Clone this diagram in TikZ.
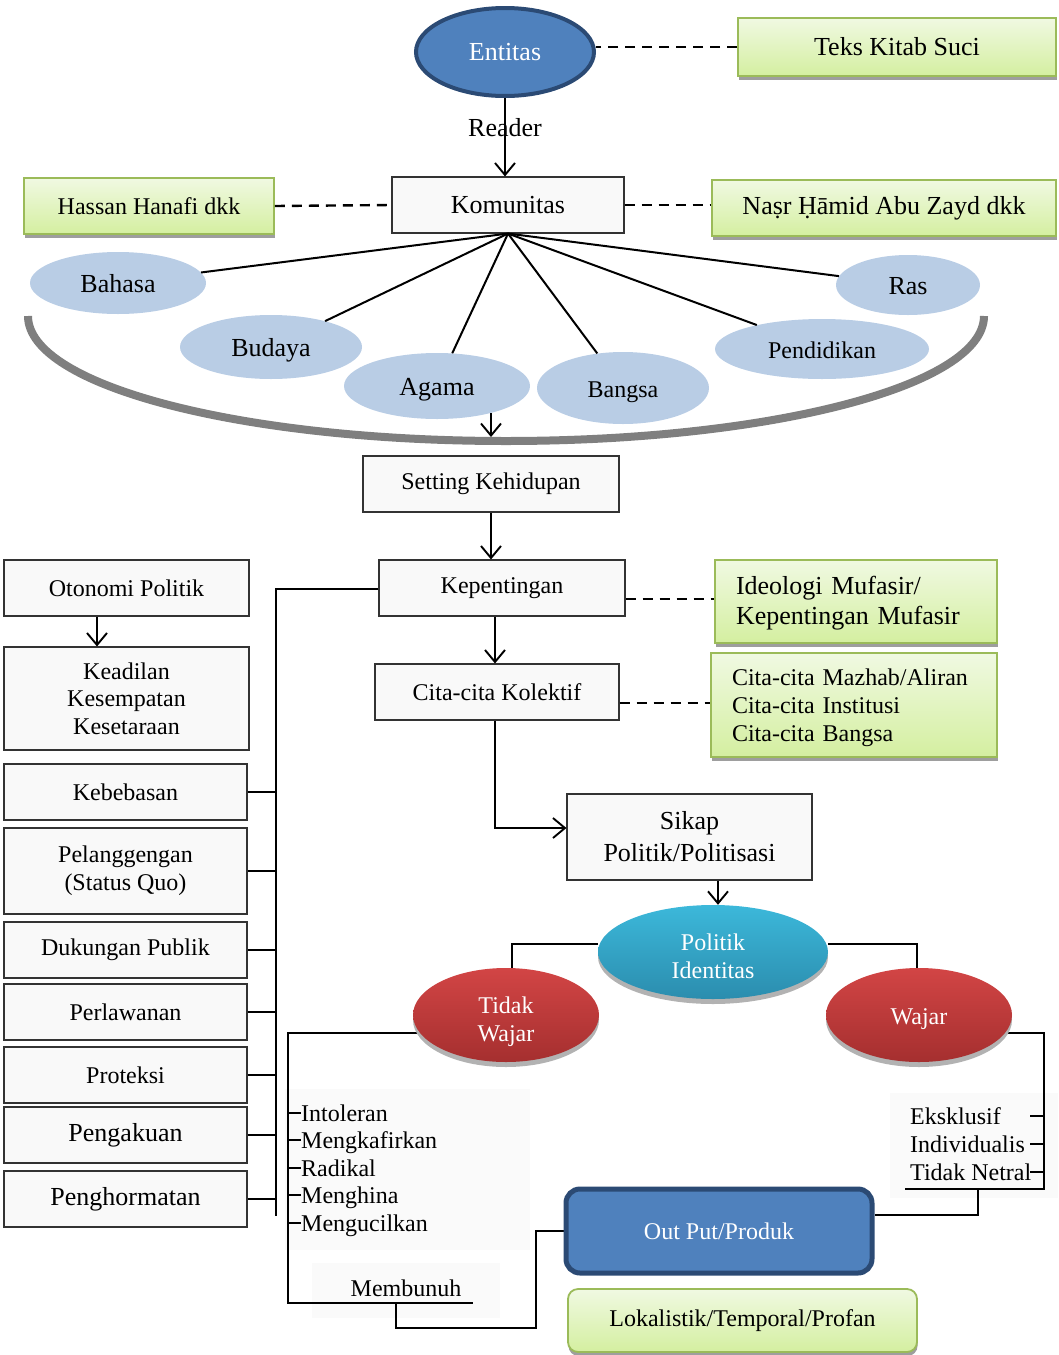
\documentclass[tikz,border=0pt]{standalone}
\usepackage{fontspec}
\setmainfont{Liberation Serif}
\usetikzlibrary{arrows.meta,shapes.geometric,shadows,backgrounds}
\definecolor{gbord}{HTML}{9BBB59}
\definecolor{gtop}{HTML}{F0F9E2}
\definecolor{gbot}{HTML}{D4EFA0}
\definecolor{lblue}{HTML}{B9CDE5}
\definecolor{dblue}{HTML}{4F81BD}
\definecolor{nblue}{HTML}{2B4A74}
\definecolor{rtop}{HTML}{D24545}
\definecolor{rbot}{HTML}{A52F2F}
\definecolor{ctop}{HTML}{3CB8DA}
\definecolor{cbot}{HTML}{2B8DAE}
\definecolor{boxfill}{HTML}{F9F9F9}
\definecolor{faint}{HTML}{FAFAFA}
\definecolor{bowlc}{HTML}{7F7F7F}
\newcommand\fsA{\fontsize{24}{28}\selectfont}
\newcommand\fsB{\fontsize{26}{30}\selectfont}
\begin{document}
\begin{tikzpicture}[x=1pt,y=-1pt,
 plainbox/.style={draw=black!80, fill=boxfill, line width=1.1pt, inner sep=0pt, align=center, font=\fsA},
 greenbox/.style={draw=gbord, line width=1.8pt, top color=gtop, bottom color=gbot,
   drop shadow={shadow xshift=0.5pt, shadow yshift=-4pt, fill=black!38, opacity=1}, inner sep=0pt},
 lightell/.style={ellipse, fill=lblue, inner sep=0pt, font=\fsB, text height=21pt, text depth=3pt},
 redell/.style={ellipse, top color=rtop, bottom color=rbot, inner sep=0pt, text=white, font=\fsA, align=center,
   minimum width=186pt, minimum height=94pt,
   drop shadow={shadow xshift=0pt, shadow yshift=-5pt, fill=black!30, opacity=1}},
 conn/.style={line width=2.1pt},
 arr/.style={line width=1.9pt, -{Straight Barb[length=12pt,width=20pt,line width=1.9pt]}},
 dsh/.style={line width=2.4pt, dash pattern=on 10pt off 7pt},
 listitem/.style={anchor=base west, inner sep=0pt, font=\fsA},
]
\useasboundingbox (0,0) rectangle (1058,1355);

% ---------- top ----------
\node[ellipse, fill=dblue, draw=nblue, line width=4pt, minimum width=178pt, minimum height=88pt,
  inner sep=0pt, text=white, font=\fsB] (ent) at (505,52) {Entitas};
\node[greenbox, minimum width=318pt, minimum height=58pt, font=\fsB] (teks) at (897,47) {Teks Kitab Suci};
\node[plainbox, minimum width=232pt, minimum height=56pt, font=\fsB] (kom) at (508,205) {Komunitas};
\node[greenbox, minimum width=250pt, minimum height=56pt, font=\fsA] (has) at (149,206) {Hassan Hanafi dkk};
\node[greenbox, minimum width=344pt, minimum height=56pt, font=\fsB] (nasr) at (884,208) {Naṣr Ḥāmid Abu Zayd dkk};

\draw[dsh] (teks.west) -- (teks.west -| ent.east);
\draw[dsh] (has.east) -- (kom.west);
\draw[dsh] (kom.east) -- (kom.east -| nasr.west);
\draw[arr] (ent.south) -- (ent.south |- kom.north) node[pos=0.38, font=\fsB, inner sep=0pt] (rdr) {Reader};

% ---------- identity ellipses ----------
\node[lightell, minimum width=176pt, minimum height=62pt] (bah) at (118,283) {Bahasa};
\node[lightell, minimum width=182pt, minimum height=64pt] (bud) at (271,347) {Budaya};
\node[lightell, minimum width=186pt, minimum height=66pt] (aga) at (437,386) {Agama};
\node[lightell, minimum width=172pt, minimum height=72pt, font=\fsA] (ban) at (623,388) {Bangsa};
\node[lightell, minimum width=214pt, minimum height=60pt, font=\fsA] (pdk) at (822,349) {Pendidikan};
\node[lightell, minimum width=144pt, minimum height=60pt] (ras) at (908,285) {Ras};
\foreach \n in {bah,bud,aga,ban,pdk,ras} \draw[line width=2pt] (kom.south) -- (\n);

\draw[bowlc, line width=8pt] (28,316) .. controls (28,386) and (242,441) .. (506,441)
  .. controls (770,441) and (984,386) .. (984,316);
\coordinate (agdrop) at (491,413);
\coordinate (bowlbot) at (491,437);
\draw[arr] (agdrop) -- (bowlbot);

% ---------- centre column ----------
\node[plainbox, minimum width=256pt, minimum height=56pt] (set) at (491,484) {Setting Kehidupan};
\node[plainbox, minimum width=246pt, minimum height=56pt] (kep) at (502,588) {Kepentingan};
\node[greenbox, minimum width=282pt, minimum height=83pt, text width=240pt, align=left,
  font=\fontsize{26}{30}\selectfont] (ideo) at (856,601.5) {\rule{0pt}{22pt}Ideologi Mufasir/\\Kepentingan Mufasir};
\node[plainbox, minimum width=244pt, minimum height=56pt] (cit) at (497,692) {Cita-cita Kolektif};
\node[greenbox, minimum width=286pt, minimum height=104pt, text width=244pt, align=left,
  font=\fontsize{24}{28}\selectfont] (cgr) at (854,705) {\rule{0pt}{22pt}Cita-cita Mazhab/Aliran\\Cita-cita Institusi\\Cita-cita Bangsa};
\node[plainbox, minimum width=245pt, minimum height=86pt, font=\fontsize{26}{32}\selectfont] (sik) at (689.5,837) {Sikap\\Politik/Politisasi};

\draw[arr] (set.south) -- (set.south |- kep.north);
\draw[dsh] ([yshift=-11pt]kep.east) -- ([yshift=-11pt]kep.east -| ideo.west);
\draw[arr] ([xshift=-7pt]kep.south) -- ([xshift=-7pt]kep.south |- cit.north);
\draw[dsh] ([yshift=-11pt]cit.east) -- ([yshift=-11pt]cit.east -| cgr.west);
\draw[arr] ([xshift=-2pt]cit.south) |- ([yshift=9pt]sik.west);

% ---------- politik identitas ----------
\node[ellipse, top color=ctop, bottom color=cbot, inner sep=0pt, text=white, font=\fsA, align=center,
  minimum width=230pt, minimum height=94pt,
  drop shadow={shadow xshift=0pt, shadow yshift=-5pt, fill=black!30, opacity=1}] (pol) at (713,952) {\rule{0pt}{24.5pt}Politik\\Identitas};
\node[redell] (tw) at (506,1015) {\rule{0pt}{30.5pt}Tidak\\Wajar};
\node[redell] (wj) at (919,1015) {\rule{0pt}{24pt}Wajar};
\draw[arr] ([xshift=28.5pt]sik.south) -- ([xshift=28.5pt]sik.south |- pol.north);

% ---------- left column ----------
\node[plainbox, minimum width=245pt, minimum height=56pt] (oto) at (126.5,588) {Otonomi Politik};
\node[plainbox, minimum width=245pt, minimum height=103pt, font=\fontsize{24}{27.5}\selectfont] (kea) at (126.5,698.5) {Keadilan\\Kesempatan\\Kesetaraan};
\node[plainbox, minimum width=243pt, minimum height=56pt] (keb) at (125.5,792) {Kebebasan};
\node[plainbox, minimum width=243pt, minimum height=86pt] (pel) at (125.5,871) {Pelanggengan\\(Status Quo)};
\node[plainbox, minimum width=243pt, minimum height=56pt] (duk) at (125.5,950) {Dukungan Publik};
\node[plainbox, minimum width=243pt, minimum height=56pt] (per) at (125.5,1012) {Perlawanan};
\node[plainbox, minimum width=243pt, minimum height=56pt] (pro) at (125.5,1075) {Proteksi};
\node[plainbox, minimum width=243pt, minimum height=56pt, font=\fsB] (pen) at (125.5,1135) {Pengakuan};
\node[plainbox, minimum width=243pt, minimum height=56pt, font=\fsB] (phr) at (125.5,1199) {Penghormatan};
\draw[arr] ([xshift=-29.5pt]oto.south) -- ([xshift=-29.5pt]oto.south |- kea.north);
\coordinate (kv) at (276,0);
\coordinate (kvb) at (276,1216);
\draw[conn] ([yshift=-1pt]kep.west) -| (kvb);
\foreach \n in {keb,pel,duk,per,pro,pen,phr} \draw[line width=2.6pt] (\n.east) -- (\n.east -| kv);

% ---------- output ----------
\node[draw=nblue, fill=dblue, line width=5pt, rounded corners=14pt, minimum width=306pt, minimum height=84pt,
  inner sep=0pt, text=white, font=\fsA] (out) at (719,1231) {Out Put/Produk};
\node[greenbox, rounded corners=10pt, minimum width=349pt, minimum height=63pt, font=\fsA] (lok) at (742.5,1320.5) {Lokalistik/Temporal/Profan};

% lists
\node[listitem] (i1) at (301,1121) {Intoleran};
\node[listitem] (i2) at (301,1148) {Mengkafirkan};
\node[listitem] (i3) at (301,1176) {Radikal};
\node[listitem] (i4) at (301,1203) {Menghina};
\node[listitem] (i5) at (301,1231) {Mengucilkan};
\node[font=\fsA, inner sep=0pt, anchor=base] (mbn) at (406,1296) {Membunuh};
\node[listitem] (e1) at (910,1124) {Eksklusif};
\node[listitem] (e2) at (910,1152) {Individualis};
\node[listitem] (e3) at (910,1180) {Tidak Netral};

\coordinate (L1) at (288,1033);
\coordinate (L2) at (288,1303);
\coordinate (M1) at (473,1303);
\coordinate (M2) at (396,1303);
\coordinate (M3) at (536,1328);
\coordinate (R1) at (1044,1033);
\coordinate (R2) at (1044,1189);
\coordinate (R3) at (905,1189);
\coordinate (R4) at (978,1189);

\begin{scope}[on background layer]
\fill[faint] (285,1089) rectangle (530,1250);
\fill[faint] (312,1263) rectangle (500,1318);
\fill[faint] (890,1093) rectangle (1058,1198);
\draw[conn] ([yshift=8pt]pol.west) -| ([xshift=6pt]tw.center);
\draw[conn] ([yshift=8pt]pol.east) -| ([xshift=-2pt]wj.center);
\draw[conn] ([yshift=-18pt]tw.center) -- (L1) -- (L2) -- (M1);
\draw[conn] (M2) |- (M3) |- (out.west);
\draw[conn] ([yshift=-18pt]wj.center) -- (R1) -- (R2) -- (R3);
\draw[conn] (R4) |- ([yshift=16pt]out.east);
\foreach \n in {i1,i2,i3,i4,i5} \draw[conn] ([yshift=8pt]\n.base west -| L1) -- ([yshift=8pt]\n.base west);
\foreach \n in {e1,e2,e3} \draw[conn] ([yshift=8pt]\n.base west -| R1) -- ++(-14,0);
\end{scope}
\end{tikzpicture}
\end{document}
